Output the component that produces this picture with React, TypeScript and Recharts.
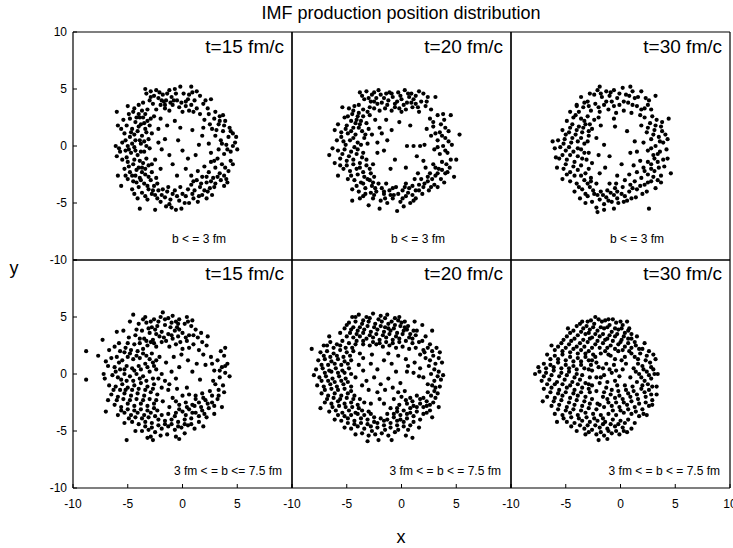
import { ScatterChart, Scatter, XAxis, YAxis } from "recharts";

const FONT = '"Liberation Sans", Arial, Helvetica, sans-serif';
const TICKS = [-10, -5, 0, 5, 10];

const timeLabels = ["t=15 fm/c", "t=20 fm/c", "t=30 fm/c"];
const centralLabels = ["b < = 3 fm", "b < = 3 fm", "b < = 3 fm"];
const peripheralLabels = ["3 fm < = b <= 7.5 fm", "3 fm < = b < = 7.5 fm", "3 fm < = b < = 7.5 fm"];

// b <= 3 fm
const central15: number[][] = [
  [-3.4,5.0],[-2.9,4.8],[-2.4,4.9],[-1.2,4.9],[-0.7,5.0],[-0.2,5.2],[0.8,5.2],[1.6,4.4],[1.1,4.0],[0.5,4.1],
  [-2.6,4.4],[-2.2,4.2],[-1.8,4.5],[-1.5,4.0],[-1.0,4.3],[-0.5,4.0],[0.1,4.6],[0.3,3.9],[0.8,3.6],[1.3,3.3],
  [-3.0,4.0],[-2.7,3.7],[-2.0,3.6],[-1.6,3.3],[-0.9,3.6],[-0.3,3.4],[0.6,3.1],[1.9,3.7],[2.3,3.3],[-3.6,3.8],
  [-4.0,3.6],[-3.2,3.2],[-1.2,3.1],[0.0,3.0],[1.6,2.8],[2.6,4.1],[-2.4,3.2],[-0.6,4.6],[-1.9,4.0],[0.9,4.7],
  [-5.0,3.5],[-4.5,3.0],[-4.0,2.8],[-3.6,2.5],[-4.8,2.4],[-4.3,2.1],[-3.8,1.9],[-3.2,2.2],[-5.1,1.8],[-4.6,1.5],
  [-4.1,1.3],[-3.4,1.5],[-3.0,1.8],[-5.3,1.1],[-4.8,0.8],[-4.3,0.5],[-3.7,0.9],[-3.1,0.6],[-5.5,0.3],[-5.0,0.0],
  [-4.4,-0.1],[-3.8,0.2],[-2.8,1.1],[-2.6,2.6],[-3.9,2.5],[-4.4,1.0],[-3.5,0.4],[-2.2,1.5],[-6.0,3.0],[-5.9,1.8],
  [-6.1,0.0],[-5.7,-0.5],[-5.2,-0.4],[-4.7,-0.6],[-4.1,-0.8],[-3.5,-0.5],[-5.5,-1.2],[-5.0,-1.4],[-4.5,-1.6],[-3.9,-1.3],
  [-3.3,-1.1],[-5.3,-2.0],[-4.8,-2.3],[-4.2,-2.1],[-3.7,-1.9],[-3.1,-1.7],[-5.0,-2.9],[-4.5,-3.1],[-3.9,-2.8],[-3.4,-2.5],
  [-2.8,-2.3],[-4.6,-3.8],[-4.0,-3.6],[-3.5,-3.3],[-2.9,-3.0],[-2.4,-2.8],[-5.6,-3.5],[-3.7,-4.1],[-3.1,-3.8],[-2.6,-3.5],
  [-4.1,-4.6],[-3.4,-4.4],[-2.8,-4.2],[-2.2,-3.9],[-5.9,-2.6],[-2.5,-1.2],[-2.0,-2.0],[-3.0,-0.2],[-6.0,-0.9],[-4.3,-2.6],
  [-3.9,-5.5],[-2.5,-5.6],[-2.0,-4.9],[-1.6,-4.5],[-1.2,-5.1],[-0.9,-4.2],[-0.6,-5.6],[-0.3,-4.8],[-0.1,-5.5],[0.3,-4.4],
  [0.6,-5.0],[1.0,-4.6],[1.4,-4.9],[1.8,-4.3],[-1.8,-3.8],[-1.3,-3.6],[-0.7,-3.9],[-0.2,-3.6],[0.5,-3.8],[1.1,-3.9],
  [-2.3,-4.6],[-1.0,-5.4],[0.0,-4.2],[2.2,-4.6],[-1.5,-5.3],
  [1.6,-3.6],[2.0,-3.9],[2.5,-3.7],[3.0,-3.3],[3.5,-3.0],[2.2,-3.2],[2.8,-2.8],[3.4,-2.4],[4.0,-2.9],[1.8,-2.7],
  [2.4,-2.3],[3.0,-1.9],[3.6,-1.6],[4.2,-2.2],[1.4,-2.2],[2.0,-1.8],[2.6,-1.4],[3.2,-1.1],[4.6,-1.6],[1.0,-3.1],
  [3.8,-3.5],[0.8,-2.6],[4.1,-3.2],[2.7,-4.3],
  [3.8,-0.7],[4.4,-0.5],[3.3,-0.3],[4.0,0.1],[4.6,0.0],[3.5,0.5],[4.2,0.8],[4.9,0.8],[3.0,0.9],[3.7,1.3],
  [4.3,1.6],[2.7,1.5],[3.3,1.9],[3.9,2.2],[2.9,2.4],[3.4,2.6],[4.6,1.1],[2.4,0.2],[2.6,-0.6],[5.0,-0.3],
  [2.0,2.3],[2.4,2.8],[3.0,3.0],[1.9,1.6],[3.7,2.7],
  [-0.4,0.5],[-1.2,-0.8],[0.3,-2.0],[1.5,0.1],[-0.7,2.2],[-1.6,0.6],[-0.9,-1.6],[0.9,1.4],[-1.9,-0.3],[0.5,-1.1],
  [-0.2,1.6],[1.2,-0.8],[-1.4,1.8],[-2.2,0.3],[0.0,-0.4],[-0.5,-2.6],[1.8,0.9],[-2.0,2.4],
  [-2.1,4.7],[-1.4,4.6],[-0.8,4.0],[0.6,4.5],[1.3,4.8],[-3.3,4.6],[-2.9,4.3],[-1.7,3.9],[-1.1,3.8],[0.3,3.5],
  [-3.7,3.1],[-4.4,3.3],[-4.2,2.5],[-3.4,2.8],[-4.9,2.8],[-5.4,2.3],[-3.3,1.2],[-4.0,1.7],[-4.7,1.2],[-5.6,1.5],
  [-3.9,0.5],[-5.2,0.5],[-4.6,0.2],[-3.3,0.0],[-5.8,-0.2],[-4.3,-0.4],[-3.8,-0.5],[-5.1,-1.0],[-4.4,-1.2],[-3.6,-1.5],
  [-4.9,-1.8],[-4.0,-1.9],[-3.4,-2.0],[-4.6,-2.6],[-3.7,-2.3],[-3.1,-2.7],[-4.2,-3.2],[-3.8,-3.0],[-3.2,-3.5],[-2.7,-3.9],
  [-4.4,-4.2],[-3.2,-4.7],[-2.5,-4.3],[-1.9,-4.3],[-1.4,-4.0],[-0.5,-4.4],[0.2,-5.0],[0.9,-4.2],[1.5,-4.4],[-1.1,-4.7],
  [2.3,-4.0],[2.9,-3.6],[3.2,-2.7],[2.6,-3.1],[3.8,-2.6],[2.2,-2.7],[1.7,-3.3],[3.9,-1.9],[4.4,-1.3],[2.9,-1.3],
  [4.1,-0.3],[4.8,0.3],[3.6,0.2],[4.4,1.3],[3.1,1.4],[3.8,1.8],[2.5,1.9],[3.4,2.2],[-2.8,-1.6],[-5.2,-2.6],
  [-1.6,3.6],[-0.1,3.8],[1.0,3.0],[2.1,4.0],[-3.5,2.0],[-2.9,2.4],[-4.9,-0.3],[-2.3,-3.3],[0.8,-3.4],[1.3,-3.0],
];

const central20: number[][] = [
  [-3.8,4.7],[-3.2,4.8],[-2.7,4.5],[-2.1,4.9],[-1.4,4.6],[-0.8,4.3],[-0.3,4.7],[0.3,4.9],[0.9,4.6],[1.6,4.8],
  [-3.4,4.1],[-2.8,3.9],[-2.3,4.2],[-1.8,3.8],[-1.2,4.0],[-0.6,3.7],[0.0,4.1],[0.5,3.8],[1.1,4.1],[1.8,3.9],
  [2.4,4.3],[2.2,3.5],[-2.5,3.3],[-1.5,3.3],[-0.9,3.1],[-0.2,3.3],[0.4,3.2],[1.0,3.4],[1.6,3.0],[2.7,3.2],
  [-3.9,3.6],[-1.9,4.5],[0.7,4.3],[-2.9,3.4],[-0.4,3.9],[1.3,3.7],[-1.1,4.7],[2.0,4.6],[3.1,4.3],[-3.5,3.2],
  [-5.4,3.4],[-4.8,3.3],[-4.5,2.8],[-3.9,2.9],[-5.2,2.5],[-4.6,2.2],[-4.1,2.3],[-3.5,2.6],[-5.8,1.9],[-5.0,1.8],
  [-4.4,1.6],[-3.8,1.9],[-3.2,2.0],[-5.5,1.2],[-4.9,1.1],[-4.2,1.0],[-3.6,1.3],[-3.0,1.5],[-5.9,0.5],[-5.3,0.4],
  [-4.7,0.5],[-4.0,0.3],[-3.4,0.7],[-2.7,1.0],[-2.4,2.3],[-2.0,1.6],[-2.9,2.7],[-6.1,1.4],[-4.3,3.5],[-3.1,0.2],
  [-6.6,-0.8],[-5.8,-0.4],[-5.2,-0.3],[-4.6,-0.5],[-4.0,-0.3],[-3.5,-0.6],[-5.6,-1.1],[-5.0,-1.3],[-4.4,-1.2],[-3.8,-1.5],
  [-3.2,-1.2],[-5.3,-2.0],[-4.7,-2.2],[-4.1,-2.0],[-3.5,-2.3],[-2.9,-2.0],[-4.9,-2.9],[-4.3,-3.0],[-3.7,-3.2],[-3.1,-2.9],
  [-2.5,-2.7],[-4.5,-3.8],[-3.9,-4.0],[-3.3,-3.7],[-2.7,-3.5],[-2.1,-3.3],[-5.8,-2.6],[-6.1,-1.5],[-2.6,-1.6],[-2.2,-0.6],
  [-4.5,-4.8],[-3.8,-4.6],[-3.0,-5.2],[-2.6,-4.6],[-2.0,-5.5],[-1.6,-4.2],[-1.3,-5.0],[-0.8,-4.6],[-0.4,-5.7],[-0.1,-4.9],
  [0.4,-4.4],[0.8,-5.0],[1.3,-4.6],[1.9,-4.2],[-2.3,-4.0],[-1.8,-3.7],[-1.1,-3.9],[-0.5,-3.6],[0.1,-3.9],[0.7,-3.7],
  [1.3,-3.9],[2.0,-3.6],[-3.5,-4.4],[-0.7,-4.3],[0.2,-5.3],[-1.9,-4.8],[-2.8,-4.1],[1.0,-4.3],[-1.4,-3.3],[0.4,-3.3],
  [2.5,-3.9],[3.0,-3.4],[2.4,-3.1],[3.1,-2.6],[3.6,-2.9],[1.8,-2.9],[2.6,-2.4],[3.4,-2.0],[4.0,-2.4],[1.5,-2.4],
  [2.2,-1.9],[2.9,-1.6],[3.7,-1.4],[4.4,-1.9],[1.2,-2.9],[4.8,-2.7],[3.3,-3.6],[5.0,-1.2],[2.0,-1.3],[3.9,-3.2],
  [3.5,-0.7],[4.2,-0.6],[3.0,-0.3],[3.8,0.0],[4.6,0.1],[3.3,0.5],[4.0,0.7],[2.7,0.9],[3.5,1.2],[4.3,1.3],
  [2.9,1.7],[3.6,1.9],[2.6,2.4],[3.3,2.7],[4.5,2.7],[5.3,1.0],[2.3,1.5],[3.9,2.3],[2.1,0.1],
  [0.5,0.0],[1.1,0.0],[1.7,0.0],[-1.3,0.5],[-0.9,1.4],[-1.6,-0.4],[0.8,1.8],[-0.6,-1.2],[0.4,-1.9],[-1.8,1.1],
  [-0.2,2.1],[1.4,-0.9],[-1.0,-2.0],[-2.2,0.3],[-1.4,2.3],
  [-3.6,4.4],[-3.0,4.2],[-2.5,4.7],[-1.6,4.2],[-0.9,4.6],[-0.1,4.4],[0.6,4.6],[1.3,4.4],[2.3,3.9],[-2.2,3.7],
  [-1.3,3.6],[-0.6,3.4],[0.2,3.6],[0.9,3.8],[1.5,3.4],[-3.1,3.0],[-2.0,3.1],[-4.4,3.1],[-4.9,2.6],[-4.2,2.0],
  [-3.7,2.2],[-5.1,1.5],[-4.6,1.3],[-3.9,1.6],[-3.3,1.0],[-5.5,0.8],[-4.4,0.7],[-3.7,0.1],[-5.1,0.1],[-4.3,-0.1],
  [-5.4,-0.7],[-4.8,-0.9],[-4.1,-0.7],[-3.6,-1.0],[-5.0,-1.7],[-4.4,-1.6],[-3.8,-1.9],[-3.2,-1.7],[-4.6,-2.6],[-4.0,-2.5],
  [-3.4,-2.7],[-2.8,-2.4],[-4.1,-3.5],[-3.5,-3.3],[-2.9,-3.0],[-2.4,-3.7],[-3.3,-4.2],[-2.5,-4.3],[-1.5,-4.6],[-1.0,-4.3],
  [-0.3,-4.2],[0.1,-4.6],[0.6,-4.1],[1.1,-4.8],[1.6,-3.9],[-1.6,-4.0],[-0.8,-3.7],[0.3,-3.6],[1.0,-3.5],[1.6,-3.4],
  [2.1,-3.3],[2.7,-3.6],[2.8,-2.9],[3.3,-2.4],[2.4,-2.7],[3.7,-2.1],[4.2,-2.3],[3.1,-1.9],[4.1,-1.6],[4.5,-1.2],
  [4.0,-0.4],[3.3,-0.1],[4.3,0.4],[3.7,0.9],[3.1,1.1],[4.0,1.6],[2.9,2.1],[3.8,2.8],[-5.6,-1.7],[-6.3,-0.2],
  [-2.5,3.9],[0.0,3.0],[-4.0,2.6],[-2.6,-3.2],
];

const central30: number[][] = [
  [-1.9,5.2],[-1.3,4.8],[-0.6,4.9],[0.2,5.1],[1.1,4.8],[1.9,4.8],[-2.4,4.5],[-1.7,4.3],[-1.0,4.4],[-0.3,4.2],
  [0.5,4.5],[1.3,4.2],[2.6,4.0],[3.2,4.4],[-3.6,4.3],[-3.0,3.9],[-2.3,3.7],[-1.5,3.6],[-0.8,3.9],[-0.1,3.6],
  [0.7,3.8],[1.5,3.5],[2.2,3.3],[-3.4,3.4],[-2.7,3.1],[-1.9,3.0],[-1.1,3.2],[-0.4,2.9],[0.3,3.1],[1.0,2.9],
  [1.8,2.7],[2.8,3.2],[-4.0,3.5],[-2.1,4.9],[0.9,5.2],
  [-4.6,3.0],[-4.1,2.7],[-3.6,2.4],[-3.0,2.6],[-2.4,2.3],[-4.9,2.2],[-4.4,1.9],[-3.8,1.7],[-3.2,1.9],[-2.6,1.5],
  [-5.3,1.4],[-4.7,1.2],[-4.1,1.0],[-3.5,1.2],[-2.9,0.9],[-5.7,0.5],[-5.1,0.6],[-4.5,0.3],[-3.9,0.4],[-3.3,0.2],
  [-6.2,0.4],[-5.5,-0.1],[-2.2,0.7],[-1.8,1.8],[-4.0,3.6],[-2.0,2.5],
  [-6.0,-0.2],[-5.0,-0.4],[-4.3,-0.5],[-3.6,-0.3],[-2.9,-0.6],[-5.6,-1.1],[-4.9,-1.2],[-4.2,-1.4],[-3.5,-1.1],[-2.6,-1.5],
  [-5.8,-1.9],[-5.2,-2.0],[-4.6,-2.3],[-3.9,-2.1],[-3.2,-2.4],[-5.3,-2.9],[-4.6,-3.1],[-4.0,-3.3],[-3.3,-3.0],[-2.7,-2.8],
  [-4.2,-4.0],[-3.5,-3.8],[-2.8,-3.6],[-2.2,-3.3],[-1.9,-2.4],
  [-3.7,-4.6],[-3.0,-4.4],[-2.4,-4.2],[-1.8,-4.0],[-1.2,-3.9],[-0.5,-3.7],[0.2,-3.6],[0.9,-3.4],[1.5,-3.8],[-3.2,-5.0],
  [-2.6,-4.9],[-1.9,-4.7],[-1.3,-4.5],[-0.6,-4.3],[0.1,-4.2],[0.8,-4.0],[1.4,-4.5],[-2.2,-5.4],[-1.5,-5.1],[-0.8,-4.9],
  [-0.2,-5.0],[0.6,-4.8],[-2.1,-5.8],[-1.5,-5.6],[-0.6,-5.5],[2.6,-5.5],[-2.7,-3.1],[-1.0,-3.3],[0.4,-3.0],[2.0,-4.2],
  [2.2,-3.4],[2.8,-3.1],[3.2,-3.7],[1.9,-2.8],[2.5,-2.5],[3.1,-2.2],[3.7,-2.6],[1.5,-2.3],[2.1,-1.9],[2.8,-1.6],
  [3.4,-1.4],[4.0,-1.8],[1.2,-1.7],[1.8,-1.3],[3.7,-3.2],[4.3,-1.1],[2.4,-4.0],[0.8,-2.5],
  [3.0,-0.8],[3.6,-0.5],[4.2,-0.3],[2.5,-0.4],[3.2,0.0],[3.9,0.3],[2.8,0.6],[3.5,0.8],[4.1,1.0],[2.4,1.2],
  [3.1,1.4],[3.7,1.7],[2.7,2.0],[3.3,2.3],[4.4,2.4],[2.2,2.5],[4.6,-2.4],[1.9,1.8],[2.1,0.3],
  [-1.5,0.1],[-1.0,-0.9],[0.1,-1.6],[1.3,0.4],[-0.5,1.7],[-1.4,-1.9],[0.9,-0.6],[-0.3,-2.6],[0.6,1.3],[1.5,-0.5],
  [-2.0,-0.8],[-0.6,2.4],
  [-2.8,4.6],[-1.8,4.6],[-0.9,4.7],[-0.1,4.6],[0.8,4.4],[1.6,4.3],[2.3,4.2],[-3.3,3.8],[-2.0,3.4],[-1.3,3.9],
  [-0.6,3.5],[0.3,3.9],[1.1,3.6],[1.9,3.2],[2.5,3.6],[-2.9,3.5],[-3.8,3.0],[-4.3,2.5],[-3.3,2.2],[-2.8,1.9],
  [-4.6,1.6],[-4.0,1.4],[-3.4,1.6],[-2.9,1.3],[-5.0,1.0],[-4.4,0.7],[-3.6,0.7],[-3.0,0.4],[-5.2,0.2],[-4.7,-0.1],
  [-3.9,-0.2],[-3.3,-0.6],[-5.3,-0.8],[-4.6,-0.8],[-3.9,-0.9],[-3.1,-1.2],[-5.0,-1.6],[-4.3,-1.8],[-3.6,-1.7],[-2.9,-2.0],
  [-4.9,-2.5],[-4.2,-2.6],[-3.6,-2.6],[-3.0,-3.3],[-3.8,-3.6],[-2.5,-3.9],[-3.2,-4.2],[-2.1,-4.3],[-1.6,-4.3],[-0.9,-4.1],
  [-0.3,-4.0],[0.4,-4.4],[1.1,-3.7],[-1.1,-4.8],[-0.3,-4.6],[0.3,-4.9],[1.0,-4.6],[1.8,-3.5],[2.5,-3.2],[3.0,-2.7],
  [3.4,-3.0],[2.2,-2.2],[2.8,-2.0],[3.5,-1.9],[2.5,-1.4],[3.1,-1.1],[3.9,-1.2],[3.4,-0.7],[2.8,-0.2],[3.6,0.4],
  [4.3,0.6],[3.0,1.0],[3.8,1.3],[2.5,1.6],[3.2,1.8],[3.8,2.1],[2.9,2.6],[-5.9,-1.0],[-0.4,-3.3],[1.3,-3.1],
];

// 3 fm <= b <= 7.5 fm
const mid15: number[][] = [
  [-8.8,2.0],[-8.8,-0.5],[-7.7,1.6],[-7.3,3.0],
  [-4.5,5.2],[-3.4,5.0],[-1.8,5.4],[-1.3,4.9],[-0.9,5.1],[-0.3,4.8],[0.4,5.0],[-4.0,4.4],[-3.3,4.5],[-2.8,4.1],
  [-2.2,4.6],[-1.6,4.3],[-1.0,4.5],[-0.5,4.1],[0.2,4.4],[0.8,4.2],[1.2,3.9],[-3.7,3.8],[-3.0,3.6],[-2.5,3.9],
  [-1.9,3.7],[-1.3,3.5],[-0.7,3.8],[0.0,3.6],[0.6,3.4],[1.4,3.2],[-4.3,3.4],[-3.5,3.1],[-2.7,3.0],[-2.1,3.3],
  [-1.5,2.9],[-0.9,3.1],[-0.2,2.8],[0.4,2.9],[1.0,2.6],[1.8,2.8],[-5.4,3.8],[-4.9,3.2],[-3.9,2.7],[-3.2,2.5],
  [-2.4,2.4],[-1.2,2.4],[0.0,2.2],[1.5,2.1],[2.2,2.5],[-2.0,5.0],[0.9,4.7],[-0.6,4.6],[-2.6,4.8],[2.3,3.3],
  [-4.8,4.6],[-6.0,3.7],[-2.9,2.8],[-0.4,3.3],[1.7,3.6],
  [-6.7,2.1],[-6.2,2.4],[-5.7,2.0],[-5.2,2.3],[-4.7,2.1],[-4.1,2.0],[-3.6,2.2],[-6.5,1.4],[-6.0,1.5],[-5.5,1.2],
  [-5.0,1.5],[-4.5,1.3],[-3.9,1.4],[-3.3,1.6],[-2.8,1.8],[-6.8,0.7],[-6.2,0.6],[-5.7,0.4],[-5.1,0.7],[-4.6,0.5],
  [-4.0,0.7],[-3.4,0.9],[-2.7,1.0],[-6.4,-0.1],[-5.9,-0.3],[-5.3,0.0],[-4.8,-0.2],[-4.2,0.0],[-3.6,-0.2],[-3.0,0.2],
  [-2.4,0.4],[-7.1,-0.4],[-7.0,1.1],[-2.1,1.5],[-5.8,2.7],[-1.9,0.0],
  [-6.7,-1.0],[-6.1,-1.1],[-5.5,-0.9],[-5.0,-1.2],[-4.4,-1.0],[-3.8,-0.8],[-3.2,-1.1],[-2.6,-0.9],[-6.5,-1.8],[-5.9,-2.0],
  [-5.3,-1.7],[-4.7,-1.9],[-4.1,-1.7],[-3.5,-1.9],[-2.9,-1.6],[-2.3,-1.8],[-6.2,-2.7],[-5.6,-2.9],[-5.0,-2.6],[-4.4,-2.8],
  [-3.8,-2.6],[-3.2,-2.8],[-2.6,-2.6],[-5.9,-3.6],[-5.3,-3.4],[-4.7,-3.6],[-4.1,-3.4],[-3.5,-3.6],[-2.9,-3.4],[-2.3,-3.2],
  [-5.3,-4.3],[-4.6,-4.2],[-4.0,-4.4],[-3.4,-4.2],[-2.8,-4.3],[-2.2,-4.0],[-6.8,-2.3],[-7.0,-3.3],[-1.8,-2.4],[-1.9,-1.2],
  [-3.7,-5.0],[-3.1,-4.9],[-2.5,-5.1],[-1.9,-4.8],[-1.3,-4.6],[-0.7,-4.9],[-0.1,-4.7],[0.5,-4.5],[1.1,-4.8],[-2.9,-5.5],
  [-2.0,-5.4],[-1.4,-5.3],[-0.6,-5.5],[0.2,-5.2],[-5.1,-5.8],[-3.2,-5.6],[-2.7,-5.8],[-0.3,-5.7],[-1.6,-4.1],[-1.0,-4.0],
  [-0.4,-4.2],[0.2,-4.0],[0.8,-3.9],[1.5,-4.2],[-4.3,-5.0],[1.9,-4.6],
  [-0.6,-3.4],[0.0,-3.3],[0.6,-3.1],[1.2,-3.4],[1.8,-3.2],[2.4,-3.0],[-1.2,-2.9],[-0.3,-2.7],[0.3,-2.5],[0.9,-2.7],
  [1.5,-2.5],[2.1,-2.3],[2.7,-2.5],[3.2,-2.2],[-0.9,-2.1],[0.0,-1.9],[0.6,-1.8],[1.2,-1.9],[1.8,-1.7],[2.5,-1.5],
  [3.3,-1.4],[-1.3,-1.4],[3.6,-2.9],[2.9,-3.5],[2.2,-3.8],[0.4,-1.2],[-0.5,-1.3],[3.8,-1.6],
  [3.4,-0.3],[3.9,0.1],[2.9,0.3],[3.6,0.6],[4.1,0.9],[3.2,1.2],[3.8,1.6],[2.6,1.5],[2.1,0.8],[3.9,2.3],
  [2.8,-0.6],[4.3,-0.2],[1.9,1.7],
  [-1.5,1.0],[-0.8,1.5],[-0.3,0.6],[0.5,1.2],[-1.0,0.2],[1.3,0.9],[-1.6,-0.6],[-0.6,-0.4],[0.9,0.2],[-2.2,-0.4],
  [1.6,-0.5],[-0.1,1.7],[-1.2,-0.9],
  [-3.6,4.8],[-2.9,4.6],[-2.3,4.2],[-1.6,4.8],[-1.1,4.1],[-0.4,4.4],[0.5,4.6],[-3.1,4.0],[-2.4,3.5],[-1.7,3.2],
  [-1.0,3.4],[-0.3,3.9],[0.3,3.2],[1.0,3.4],[-3.9,3.1],[-3.3,2.9],[-2.6,2.7],[-1.9,2.8],[-0.6,2.6],[0.6,2.3],
  [-4.4,2.6],[-4.8,1.8],[-4.2,1.6],[-3.6,1.8],[-3.0,1.3],[-2.4,1.2],[-5.3,1.9],[-5.8,1.0],[-5.3,0.4],[-4.4,0.3],
  [-3.8,0.4],[-3.2,0.6],[-2.6,0.7],[-6.1,0.2],[-5.6,-0.5],[-5.1,-0.6],[-4.5,-0.6],[-3.9,-0.4],[-3.3,-0.6],[-2.7,-0.4],
  [-6.3,-1.4],[-5.7,-1.4],[-5.2,-1.4],[-4.6,-1.4],[-4.0,-1.3],[-3.4,-1.4],[-2.7,-1.3],[-6.0,-2.3],[-5.4,-2.2],[-4.8,-2.3],
  [-4.2,-2.2],[-3.6,-2.3],[-3.0,-2.2],[-2.4,-2.3],[-5.6,-3.2],[-5.0,-3.1],[-4.4,-3.2],[-3.8,-3.1],[-3.2,-3.2],[-2.6,-3.0],
  [-4.9,-3.9],[-4.3,-3.8],[-3.7,-3.9],[-3.1,-3.8],[-2.5,-3.7],[-1.9,-3.6],[-3.4,-4.6],[-2.8,-4.7],[-2.2,-4.5],[-1.6,-4.4],
  [-1.0,-4.4],[-0.4,-4.6],[0.2,-4.4],[0.8,-4.4],[-1.3,-3.5],[-0.7,-3.7],[0.3,-3.6],[0.9,-3.4],[1.5,-3.7],[2.0,-3.5],
  [-0.3,-3.1],[0.4,-2.9],[1.1,-2.8],[1.7,-2.9],[2.3,-2.6],[2.9,-2.8],[-0.6,-2.4],[1.2,-2.2],[1.9,-2.1],[2.7,-1.9],
  [3.3,-1.9],[3.0,-0.9],[3.7,-1.0],[3.4,0.3],[3.9,0.7],[2.7,0.9],[3.5,2.0],[-5.0,2.7],[-4.2,3.9],[-7.2,0.0],
];

const mid20: number[][] = [
  [-4.5,5.0],[-3.9,5.2],[-3.2,5.0],[-2.6,5.3],[-1.9,5.1],[-1.3,5.2],[-0.6,4.9],[-4.8,4.5],[-4.2,4.6],[-3.6,4.4],
  [-3.0,4.6],[-2.4,4.4],[-1.8,4.6],[-1.2,4.4],[-0.6,4.3],[0.0,4.5],[0.6,4.2],[-5.2,4.0],[-4.6,3.9],[-4.0,3.8],
  [-3.4,3.9],[-2.8,3.7],[-2.2,3.9],[-1.6,3.7],[-1.0,3.8],[-0.4,3.6],[0.2,3.8],[0.8,3.5],[1.4,3.8],[-5.0,3.3],
  [-4.4,3.2],[-3.8,3.3],[-3.2,3.1],[-2.6,3.2],[-2.0,3.0],[-1.4,3.2],[-0.8,3.0],[-0.2,3.1],[0.4,2.9],[1.0,3.1],
  [1.6,2.8],[2.2,3.3],[-3.5,2.6],[-2.9,2.5],[-2.3,2.6],[-1.7,2.4],[-1.1,2.5],[-0.5,2.3],[0.1,2.4],[0.7,2.2],
  [1.3,2.3],[2.0,2.1],[2.6,2.6],[1.9,4.3],[-0.2,5.0],[1.2,4.6],[2.8,3.8],[-5.6,3.6],[-1.5,4.1],[0.3,4.1],
  [-7.1,2.5],[-6.5,2.8],[-5.9,2.6],[-5.4,2.9],[-4.8,2.7],[-4.2,2.6],[-7.4,1.9],[-6.8,2.0],[-6.2,1.8],[-5.6,2.1],
  [-5.0,1.9],[-4.4,2.0],[-3.8,1.8],[-7.6,1.2],[-7.0,1.3],[-6.4,1.1],[-5.8,1.3],[-5.2,1.1],[-4.6,1.2],[-7.8,0.4],
  [-7.2,0.5],[-6.6,0.3],[-6.0,0.5],[-5.4,0.3],[-4.8,0.5],[-7.5,-0.3],[-6.9,-0.2],[-6.3,-0.4],[-5.7,-0.2],[-5.1,-0.4],
  [-7.7,-1.0],[-7.1,-1.1],[-6.5,-0.9],[-5.9,-1.1],[-5.3,-0.9],[-4.6,-1.1],[-8.2,2.2],[-8.0,-0.1],[-4.2,-0.3],[-3.9,0.8],
  [-6.6,3.3],[-3.5,1.4],
  [-7.3,-1.7],[-6.7,-1.9],[-6.1,-1.7],[-5.5,-1.9],[-4.9,-1.7],[-4.3,-1.9],[-7.0,-2.5],[-6.4,-2.6],[-5.8,-2.4],[-5.2,-2.6],
  [-4.6,-2.5],[-4.0,-2.7],[-3.4,-2.5],[-6.6,-3.3],[-6.0,-3.2],[-5.4,-3.4],[-4.8,-3.2],[-4.2,-3.4],[-3.6,-3.2],[-3.0,-3.3],
  [-6.1,-4.0],[-5.5,-4.1],[-4.9,-3.9],[-4.3,-4.1],[-3.7,-3.9],[-3.1,-4.0],[-2.5,-3.8],[-7.4,-3.0],[-3.8,-2.2],[-2.8,-2.6],
  [-5.2,-4.7],[-4.6,-4.8],[-4.0,-4.6],[-3.4,-4.8],[-2.8,-4.6],[-2.2,-4.7],[-1.6,-4.5],[-1.0,-4.7],[-0.4,-4.5],[0.2,-4.6],
  [-4.2,-5.3],[-3.6,-5.2],[-3.0,-5.4],[-2.4,-5.3],[-1.8,-5.2],[-1.2,-5.4],[-0.6,-5.1],[-3.1,-5.9],[-2.1,-5.8],[-0.9,-5.8],
  [0.4,-5.4],[1.0,-5.6],[-1.9,-3.9],[-1.3,-4.0],[-0.7,-3.8],[-0.1,-4.0],[0.5,-3.9],[1.1,-4.2],[1.6,-4.7],[-2.5,-4.2],
  [-0.4,-3.3],[0.2,-3.2],[0.8,-3.4],[1.4,-3.3],[2.0,-3.5],[2.6,-3.2],[-1.0,-3.0],[-0.2,-2.7],[0.5,-2.6],[1.1,-2.8],
  [1.7,-2.6],[2.3,-2.8],[2.9,-2.5],[3.4,-2.9],[-0.7,-2.2],[0.0,-2.0],[0.8,-2.1],[1.4,-1.9],[2.0,-2.1],[2.7,-1.9],
  [3.3,-1.7],[-1.6,-2.6],[1.7,-4.0],[2.8,-3.8],[3.1,-1.2],[0.3,-1.5],[-1.3,-3.5],
  [2.4,-0.9],[3.0,-0.6],[3.6,-0.5],[2.0,-0.3],[2.7,0.0],[3.4,0.2],[1.7,0.5],[2.5,0.7],[3.1,0.9],[3.7,1.0],
  [2.2,1.4],[2.9,1.6],[3.5,1.9],[1.7,1.7],[3.2,2.3],[0.5,0.2],[1.1,0.1],[1.6,-0.2],[1.2,1.0],[3.8,-0.1],
  [-3.5,0.3],[-2.8,0.9],[-2.2,0.4],[-1.6,1.2],[-0.9,0.9],[-0.3,1.6],[0.4,1.3],[-3.2,-0.6],[-2.5,-0.3],[-1.9,-0.9],
  [-1.2,-0.4],[-0.5,0.2],[-3.0,-1.4],[-2.2,-1.6],[-1.5,-1.4],[-0.8,-1.2],[-0.1,-0.8],[-2.7,1.7],[-1.2,1.8],[-3.6,-1.0],
  [-2.0,-2.2],[-0.3,-1.6],[0.6,0.7],
  [-4.2,5.0],[-3.5,4.7],[-2.9,4.9],[-2.1,4.8],[-1.5,4.9],[-0.9,4.6],[-0.3,4.7],[0.3,4.6],[-5.0,4.3],[-4.4,4.1],
  [-3.8,4.1],[-3.1,4.2],[-2.5,4.1],[-1.9,4.2],[-1.2,4.0],[-0.7,4.0],[-0.1,4.2],[0.5,3.9],[1.1,3.8],[-4.7,3.6],
  [-4.1,3.5],[-3.5,3.6],[-2.9,3.4],[-2.3,3.5],[-1.7,3.4],[-1.1,3.5],[-0.5,3.3],[0.1,3.5],[0.7,3.2],[1.3,3.4],
  [-4.1,2.9],[-3.5,2.9],[-2.6,2.8],[-2.0,2.7],[-1.4,2.8],[-0.8,2.7],[-0.2,2.8],[1.0,2.7],[1.9,2.9],[2.4,2.3],
  [-6.8,2.5],[-6.2,2.3],[-5.6,2.5],[-5.1,2.3],[-4.5,2.3],[-7.1,1.6],[-6.5,1.5],[-5.9,1.6],[-5.3,1.5],[-4.7,1.6],
  [-7.3,0.8],[-6.7,0.8],[-6.1,0.9],[-5.5,0.8],[-4.9,0.9],[-7.0,0.1],[-6.4,0.2],[-5.8,0.1],[-5.2,0.1],[-4.6,0.0],
  [-7.3,-0.6],[-6.7,-0.6],[-6.1,-0.7],[-5.5,-0.6],[-4.9,-0.7],[-7.0,-1.4],[-6.4,-1.3],[-5.8,-1.4],[-5.2,-1.3],[-4.6,-1.5],
  [-6.8,-2.2],[-6.2,-2.1],[-5.6,-2.2],[-5.0,-2.1],[-4.4,-2.2],[-6.3,-2.9],[-5.7,-2.8],[-5.1,-2.9],[-4.5,-2.9],[-3.9,-3.0],
  [-5.8,-3.6],[-5.2,-3.7],[-4.6,-3.6],[-4.0,-3.5],[-3.4,-3.6],[-2.8,-3.5],[-4.9,-4.3],[-4.3,-4.4],[-3.7,-4.3],[-3.1,-4.4],
  [-2.2,-4.3],[-1.6,-4.1],[-1.0,-4.3],[-0.4,-4.1],[0.2,-4.2],[0.8,-4.5],[-2.7,-5.0],[-1.5,-4.9],[-0.3,-4.9],[0.6,-4.9],
  [-0.7,-3.5],[-0.1,-3.6],[0.5,-3.5],[1.1,-3.7],[2.3,-3.4],[-0.4,-3.0],[0.8,-3.0],[1.4,-2.9],[2.0,-2.9],[2.6,-2.7],
  [3.1,-2.1],[2.3,-2.4],[1.7,-2.2],[1.0,-2.4],[0.4,-2.3],[2.4,-1.6],[3.0,-1.5],[3.5,-1.1],[2.8,-1.0],[3.3,-0.2],
  [3.0,0.4],[3.4,1.4],[2.6,1.2],[2.1,1.9],[2.8,2.0],
];

const mid30: number[][] = [
  [-2.3,5.0],[-1.1,4.8],[-3.0,4.6],[-2.4,4.4],[-1.7,4.6],[-1.0,4.3],[-0.4,4.5],[0.2,4.3],[0.8,4.0],[-4.0,4.2],
  [-3.4,4.0],[-2.8,3.9],[-2.1,3.8],[-1.5,4.0],[-0.8,3.7],[-0.2,3.9],[0.4,3.6],[1.0,3.5],[-4.6,3.6],[-3.9,3.4],
  [-3.2,3.5],[-2.6,3.2],[-1.9,3.3],[-1.2,3.1],[-0.5,3.3],[0.1,3.0],[0.7,3.1],[1.3,2.8],[-5.2,3.0],[-4.5,2.9],
  [-3.7,2.7],[-3.0,2.8],[-2.3,2.6],[-1.6,2.7],[-0.9,2.5],[-0.2,2.6],[0.4,2.4],[1.0,2.3],[1.7,2.2],[-3.5,4.6],
  [-4.8,4.0],[0.6,4.6],[1.5,3.3],[-2.0,4.8],[2.2,2.7],[-1.4,2.0],
  [-6.3,2.5],[-5.7,2.4],[-5.0,2.3],[-4.3,2.2],[-3.6,2.1],[-2.9,2.0],[-6.7,1.7],[-6.0,1.6],[-5.3,1.7],[-4.6,1.5],
  [-3.9,1.4],[-3.2,1.5],[-7.0,0.9],[-6.4,0.8],[-5.7,1.0],[-5.0,0.8],[-4.3,0.7],[-3.6,0.8],[-7.4,0.2],[-6.8,0.1],
  [-6.1,0.3],[-5.4,0.1],[-4.7,0.2],[-4.0,0.0],[-7.8,0.0],[-7.2,-0.6],[-6.5,-0.5],[-5.8,-0.7],[-5.1,-0.5],[-4.4,-0.7],
  [-3.7,-0.5],[-7.0,-1.3],[-6.3,-1.2],[-5.6,-1.4],[-4.9,-1.2],[-4.2,-1.4],[-3.5,-1.2],[-7.5,0.6],[-2.9,0.4],[-2.6,1.2],
  [-6.7,-2.0],[-6.0,-2.1],[-5.3,-1.9],[-4.6,-2.1],[-3.9,-1.9],[-3.2,-2.0],[-6.3,-2.8],[-5.6,-2.7],[-4.9,-2.9],[-4.2,-2.7],
  [-3.5,-2.8],[-2.8,-2.6],[-6.0,-3.5],[-5.3,-3.6],[-4.6,-3.4],[-3.9,-3.6],[-3.2,-3.4],[-2.5,-3.5],[-4.9,-4.2],[-4.2,-4.3],
  [-3.5,-4.1],[-2.8,-4.2],[-7.1,-2.4],[-5.8,-4.2],
  [-4.0,-5.0],[-3.3,-4.8],[-2.6,-4.9],[-1.9,-4.7],[-1.2,-4.8],[-0.5,-4.6],[0.2,-4.7],[-2.2,-5.3],[-1.5,-5.4],[-0.8,-5.2],
  [-0.1,-5.3],[-2.0,-5.8],[-1.2,-5.7],[-3.2,-5.3],[0.6,-5.1],[-2.1,-4.1],[-1.4,-4.2],[-0.7,-4.0],[0.0,-4.1],[0.7,-4.0],
  [1.3,-4.3],[-1.8,-3.6],[-1.1,-3.5],[-0.4,-3.6],[0.3,-3.4],[1.0,-3.5],[1.7,-3.7],[1.0,-4.8],
  [-1.5,-2.9],[-0.8,-2.8],[-0.1,-2.9],[0.6,-2.7],[1.3,-2.9],[2.0,-3.1],[2.6,-2.8],[-1.2,-2.2],[-0.5,-2.1],[0.2,-2.2],
  [0.9,-2.0],[1.6,-2.2],[2.3,-2.0],[2.9,-2.3],[-0.2,-1.5],[0.5,-1.4],[1.2,-1.5],[1.9,-1.3],[2.6,-1.4],[3.3,-1.1],
  [3.3,-1.8],[-2.1,-2.6],[2.4,-3.6],
  [1.5,-0.7],[2.2,-0.6],[2.8,-0.4],[0.9,-0.3],[1.7,0.0],[2.4,0.2],[3.0,0.4],[1.2,0.5],[2.0,0.7],[2.7,1.0],
  [3.2,1.3],[1.6,1.3],[2.4,1.6],[1.0,1.8],[2.0,2.2],[0.5,0.9],[3.4,0.0],
  [-2.2,-0.3],[-1.5,-0.1],[-0.8,0.1],[-0.1,-0.2],[-2.6,-1.0],[-1.9,-0.8],[-1.2,-0.7],[-0.5,-0.6],[-2.8,-1.6],[-2.2,-1.5],
  [-1.5,-1.6],[-0.8,-1.4],[-2.0,0.6],[-1.3,0.9],[-0.6,0.8],[0.1,1.2],[-2.3,1.5],[-0.9,1.6],[-0.2,2.0],[0.2,0.4],
  [-2.7,4.7],[-1.4,4.7],[-0.7,4.8],[0.0,4.6],[-3.7,4.4],[-3.1,4.2],[-2.5,4.1],[-1.8,4.1],[-1.2,4.1],[-0.5,4.0],
  [0.1,4.0],[0.7,3.8],[-4.3,3.8],[-3.6,3.7],[-2.9,3.6],[-2.3,3.5],[-1.6,3.5],[-1.0,3.4],[-0.3,3.5],[0.3,3.3],
  [1.0,3.1],[-4.9,3.3],[-4.2,3.1],[-3.4,3.0],[-2.8,3.1],[-2.1,2.9],[-1.4,3.0],[-0.7,2.9],[0.0,2.8],[0.7,2.7],
  [1.4,2.5],[-5.4,2.7],[-4.7,2.6],[-4.0,2.4],[-3.3,2.4],[-2.6,2.3],[-1.9,2.3],[-1.2,2.3],[-0.5,2.2],[0.2,2.1],
  [0.8,2.0],[-6.0,2.1],[-5.3,2.0],[-4.6,1.9],[-3.9,1.8],[-3.2,1.8],[-2.5,1.7],[-1.8,1.8],[-1.1,1.7],[-6.4,1.3],
  [-5.7,1.3],[-5.0,1.2],[-4.3,1.1],[-3.6,1.1],[-2.9,1.2],[-2.2,1.0],[-6.8,0.5],[-6.1,0.6],[-5.4,0.5],[-4.7,0.5],
  [-4.0,0.4],[-3.3,0.5],[-2.6,0.3],[-7.0,-0.2],[-6.3,-0.1],[-5.6,-0.2],[-4.9,-0.1],[-4.2,-0.3],[-3.5,-0.1],[-2.8,-0.3],
  [-6.7,-0.9],[-6.0,-0.9],[-5.3,-0.9],[-4.6,-1.0],[-3.9,-0.9],[-3.2,-0.8],[-6.4,-1.6],[-5.7,-1.7],[-5.0,-1.6],[-4.3,-1.7],
  [-3.6,-1.6],[-2.9,-1.3],[-6.1,-2.4],[-5.4,-2.3],[-4.7,-2.5],[-4.0,-2.3],[-3.3,-2.4],[-2.6,-2.2],[-5.7,-3.1],[-5.0,-3.2],
  [-4.3,-3.1],[-3.6,-3.2],[-2.9,-3.0],[-2.2,-3.1],[-5.2,-3.9],[-4.5,-3.8],[-3.8,-3.9],[-3.1,-3.8],[-2.4,-3.9],[-1.6,-3.9],
  [-4.5,-4.6],[-3.7,-4.5],[-3.0,-4.5],[-2.3,-4.5],[-1.6,-4.4],[-0.9,-4.4],[-0.2,-4.4],[0.4,-4.3],[-2.9,-5.1],[-1.8,-5.1],
  [-1.1,-5.0],[-0.4,-5.0],[0.3,-5.0],[-0.7,-3.2],[0.0,-3.2],[0.7,-3.1],[1.4,-3.3],[2.1,-3.5],[-1.9,-2.7],[-1.1,-2.5],
  [-0.4,-2.5],[0.3,-2.5],[1.0,-2.4],[1.7,-2.6],[2.3,-2.5],[2.9,-2.7],[-1.6,-2.0],[-0.9,-1.8],[-0.1,-1.9],[0.7,-1.7],
  [1.5,-1.8],[2.2,-1.6],[2.8,-1.8],[-1.3,-1.2],[-0.3,-1.0],[0.4,-1.0],[1.1,-1.1],[2.0,-1.0],[2.9,-1.1],[2.5,-0.9],
  [1.9,-0.3],[2.6,-0.1],[3.1,0.0],[1.4,0.2],[2.1,0.4],[2.8,0.6],[1.6,0.9],[2.3,1.2],[3.0,1.7],[1.3,1.5],
  [1.8,1.8],[2.6,2.0],[-2.9,-0.9],[-1.8,-0.3],[-1.0,0.4],[-0.4,0.3],[-1.6,0.5],[-0.5,1.3],[0.4,1.5],[-2.7,0.8],
];

const panels = [
  [central15, central20, central30],
  [mid15, mid20, mid30],
];

const PANEL_W = 219;
const PANEL_H = 228;
const LEFT0 = 73;
const TOP0 = 32;
// outer padding around each plot area; the axes themselves take 1px each
const PAD = { top: 14, right: 12, left: 40, bottom: 30 };
const M = { top: PAD.top - 1, right: PAD.right - 1, left: PAD.left - 1, bottom: PAD.bottom - 1 };

const axisLine = { stroke: "#000", strokeWidth: 1.2 };
const tickLine = { stroke: "#000", strokeWidth: 1 };
const tickText = { fontSize: 12, fill: "#000", fontFamily: FONT };

function Dot(props: any) {
  return <circle cx={props.cx} cy={props.cy} r={2.1} fill="#000" />;
}

function Panel({ points, col, row }: { points: number[][]; col: number; row: number }) {
  const data = points.map(([x, y]) => ({ x, y }));
  const left = LEFT0 + col * PANEL_W;
  const top = TOP0 + row * PANEL_H;
  const xFmt = (v: number) => (v === 10 && col < 2 ? "" : String(v));
  const yFmt = (v: number) => (v === 10 && row === 1 ? "" : String(v));
  return (
    <div style={{ position: "absolute", left: left - PAD.left, top: top - PAD.top }}>
      <ScatterChart width={PANEL_W + PAD.left + PAD.right} height={PANEL_H + PAD.top + PAD.bottom} margin={M}>
        <XAxis
          xAxisId="b"
          type="number"
          dataKey="x"
          domain={[-10, 10]}
          allowDataOverflow
          ticks={TICKS}
          interval={0}
          height={1}
          tickSize={-4}
          tickMargin={15}
          tick={row === 1 ? tickText : false}
          tickFormatter={xFmt}
          axisLine={axisLine}
          tickLine={tickLine}
        />
        <XAxis
          xAxisId="t"
          orientation="top"
          type="number"
          dataKey="x"
          domain={[-10, 10]}
          allowDataOverflow
          ticks={TICKS}
          interval={0}
          height={1}
          tickSize={-4}
          tick={false}
          axisLine={axisLine}
          tickLine={tickLine}
        />
        <YAxis
          yAxisId="l"
          type="number"
          dataKey="y"
          domain={[-10, 10]}
          allowDataOverflow
          ticks={TICKS}
          interval={0}
          width={1}
          tickSize={-4}
          tickMargin={10}
          tick={col === 0 ? tickText : false}
          tickFormatter={yFmt}
          axisLine={axisLine}
          tickLine={tickLine}
        />
        <YAxis
          yAxisId="r"
          orientation="right"
          type="number"
          dataKey="y"
          domain={[-10, 10]}
          allowDataOverflow
          ticks={TICKS}
          interval={0}
          width={1}
          tickSize={-4}
          tick={false}
          axisLine={axisLine}
          tickLine={tickLine}
        />
        <Scatter xAxisId="b" yAxisId="l" data={data} shape={Dot} isAnimationActive={false} />
        <Scatter xAxisId="t" yAxisId="r" data={[]} isAnimationActive={false} />
      </ScatterChart>
    </div>
  );
}

function Txt({ x, y, size, anchor = "middle", children }: { x: number; y: number; size: number; anchor?: "start" | "middle" | "end"; children: string }) {
  const shift = anchor === "start" ? "0" : anchor === "end" ? "-100%" : "-50%";
  return (
    <div
      style={{
        position: "absolute",
        left: x,
        top: y,
        transform: `translate(${shift}, -50%)`,
        fontFamily: FONT,
        fontSize: size,
        lineHeight: 1,
        whiteSpace: "nowrap",
        color: "#000",
      }}
    >
      {children}
    </div>
  );
}

export default function App() {
  return (
    <div style={{ position: "absolute", left: 0, top: 0, width: 733, height: 548, background: "#fff", overflow: "hidden" }}>
      {panels.map((rowData, row) =>
        rowData.map((pts, col) => <Panel key={`${row}-${col}`} points={pts} col={col} row={row} />),
      )}
      <Txt x={401} y={13} size={18}>IMF production position distribution</Txt>
      {timeLabels.map((t, col) => (
        <Txt key={`t0-${col}`} x={LEFT0 + (col + 1) * PANEL_W - 8} y={TOP0 + 14} size={19} anchor="end">{t}</Txt>
      ))}
      {timeLabels.map((t, col) => (
        <Txt key={`t1-${col}`} x={LEFT0 + (col + 1) * PANEL_W - 8} y={TOP0 + PANEL_H + 13} size={19} anchor="end">{t}</Txt>
      ))}
      {centralLabels.map((b, col) => (
        <Txt key={`b0-${col}`} x={LEFT0 + col * PANEL_W + 99} y={239} size={12} anchor="start">{b}</Txt>
      ))}
      {peripheralLabels.map((b, col) => (
        <Txt key={`b1-${col}`} x={LEFT0 + (col + 1) * PANEL_W - 10} y={471} size={12} anchor="end">{b}</Txt>
      ))}
      <Txt x={14} y={268} size={18}>y</Txt>
      <Txt x={401} y={537} size={18}>x</Txt>
    </div>
  );
}
